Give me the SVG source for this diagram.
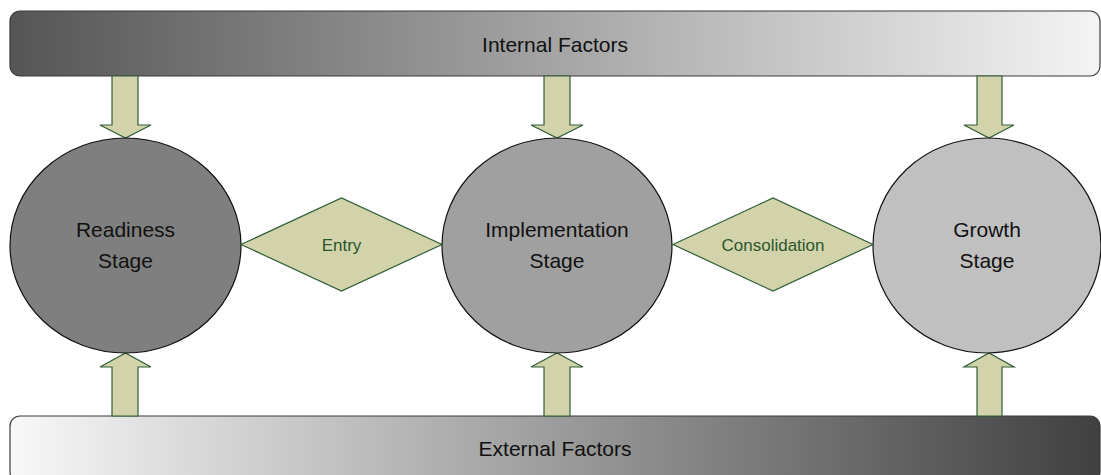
<svg xmlns="http://www.w3.org/2000/svg" width="1101" height="475" viewBox="0 0 1101 475">
<defs>
<linearGradient id="gTop" x1="0" y1="0" x2="1" y2="0">
<stop offset="0" stop-color="#555555"/>
<stop offset="1" stop-color="#f4f4f4"/>
</linearGradient>
<linearGradient id="gBot" x1="0" y1="0" x2="1" y2="0">
<stop offset="0" stop-color="#f8f8f8"/>
<stop offset="1" stop-color="#404040"/>
</linearGradient>
<style>
.bar{stroke:#3a3a3a;stroke-width:1.2}
.stage{stroke:#111;stroke-width:1.2}
.dia{fill:#d2d3ab;stroke:#2e5e36;stroke-width:1.2}
.arr{fill:#d2d3ab;stroke:#2e5e36;stroke-width:1.2;stroke-linejoin:miter}
.t{font-family:"Liberation Sans",Arial,sans-serif;font-size:21px;fill:#111;text-anchor:middle}
.dt{font-family:"Liberation Sans",Arial,sans-serif;font-size:17px;fill:#2b572b;text-anchor:middle}
</style>
</defs>
<rect width="1101" height="475" fill="#ffffff"/>
<g id="internal">
<rect class="bar" x="10" y="11" width="1090" height="65" rx="10" fill="url(#gTop)"/>
<text class="t" x="555" y="52">Internal Factors</text>
</g>
<g id="external">
<rect class="bar" x="10" y="416" width="1090" height="66" rx="10" fill="url(#gBot)"/>
<text class="t" x="555" y="456">External Factors</text>
</g>
<g id="connectors">
<polygon class="arr" points="112,76 138,76 138,125 151,125 125.5,138 100,125 112,125"/>
<polygon class="arr" points="544,76 570,76 570,125 583,125 557,138 531,125 544,125"/>
<polygon class="arr" points="977,76 1002,76 1002,125 1014,125 989,138 964,125 977,125"/>
<polygon class="arr" points="112,416 138,416 138,367 151,367 125.5,353 100,367 112,367"/>
<polygon class="arr" points="544,416 570,416 570,367 583,367 557,353 531,367 544,367"/>
<polygon class="arr" points="977,416 1002,416 1002,367 1014,367 989,353 964,367 977,367"/>
</g>
<g id="readiness">
<ellipse class="stage" cx="125.5" cy="245.5" rx="115.5" ry="107.5" fill="#7f7f7f"/>
<text class="t" x="125.5" y="237">Readiness</text>
<text class="t" x="125.5" y="268">Stage</text>
</g>
<g id="implementation">
<ellipse class="stage" cx="557" cy="245.5" rx="115" ry="107.5" fill="#a0a0a0"/>
<text class="t" x="557" y="237">Implementation</text>
<text class="t" x="557" y="268">Stage</text>
</g>
<g id="growth">
<ellipse class="stage" cx="987" cy="245.5" rx="114" ry="107.5" fill="#c0c0c0"/>
<text class="t" x="987" y="237">Growth</text>
<text class="t" x="987" y="268">Stage</text>
</g>
<g id="entry">
<polygon class="dia" points="241,244.5 341.5,198 442,244.5 341.5,291"/>
<text class="dt" x="341.5" y="251">Entry</text>
</g>
<g id="consolidation">
<polygon class="dia" points="673,244.5 773,198 873,244.5 773,291"/>
<text class="dt" x="773" y="251">Consolidation</text>
</g>
</svg>
